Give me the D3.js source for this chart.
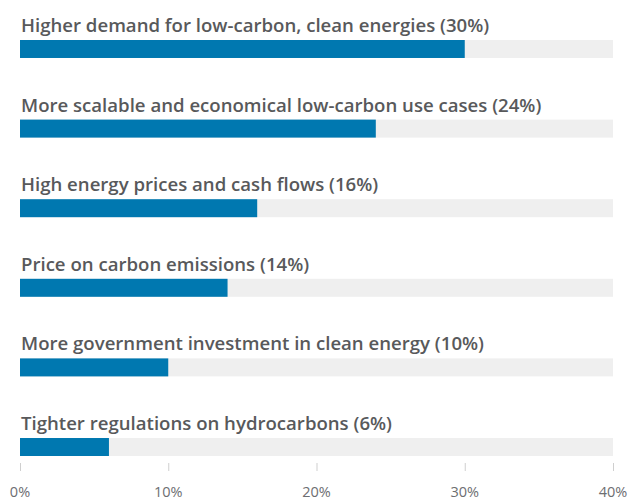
<!DOCTYPE html>
<html>
<head>
<meta charset="utf-8">
<script src="https://cdn.jsdelivr.net/npm/d3@7"></script>
<style>
  body { margin: 0; background: #fff; }
  svg { display: block; font-family: "Open Sans", sans-serif; }
</style>
</head>
<body>
<svg id="chart" width="631" height="500"></svg>
<script>
const labels = [
  "Higher demand for low-carbon, clean energies",
  "More scalable and economical low-carbon use cases",
  "High energy prices and cash flows",
  "Price on carbon emissions",
  "More government investment in clean energy",
  "Tighter regulations on hydrocarbons"
];
const values = [30, 24, 16, 14, 10, 6];
const tickValues = [0, 10, 20, 30, 40];

const svg = d3.select("#chart");
const x = d3.scaleLinear().domain([0, 40]).range([20, 613]);
const y = d3.scaleBand().domain(labels).range([40, 456]).paddingInner(0.774).paddingOuter(0);
const bh = y.bandwidth();

const rows = svg.selectAll("g.row")
  .data(labels)
  .enter()
  .append("g")
  .attr("class", "row");

rows.append("rect")
  .attr("x", x(0))
  .attr("y", d => y(d))
  .attr("width", x(40) - x(0))
  .attr("height", bh)
  .style("fill", "#efefef");

rows.append("rect")
  .attr("x", x(0))
  .attr("y", d => y(d))
  .attr("width", (d, i) => x(values[i]) - x(0))
  .attr("height", bh)
  .style("fill", "#0078b0");

rows.append("text")
  .attr("x", x(0) + 1)
  .attr("y", d => y(d) - 8)
  .style("font-size", "18.6px")
  .style("font-weight", 600)
  .style("fill", "#58595b")
  .text((d, i) => `${d} (${values[i]}%)`);

// axis
const axis = svg.append("g");
axis.selectAll("line")
  .data(tickValues)
  .enter()
  .append("line")
  .attr("x1", d => x(d) + 0.5).attr("x2", d => x(d) + 0.5)
  .attr("y1", 463).attr("y2", 471)
  .style("stroke", "#cfcfcf")
  .style("stroke-width", 1);

axis.selectAll("text")
  .data(tickValues)
  .enter()
  .append("text")
  .attr("x", d => x(d))
  .attr("y", 497)
  .attr("text-anchor", "middle")
  .style("font-size", "14.5px")
  .style("fill", "#6d6e71")
  .text(d => d + "%");
</script>
</body>
</html>
